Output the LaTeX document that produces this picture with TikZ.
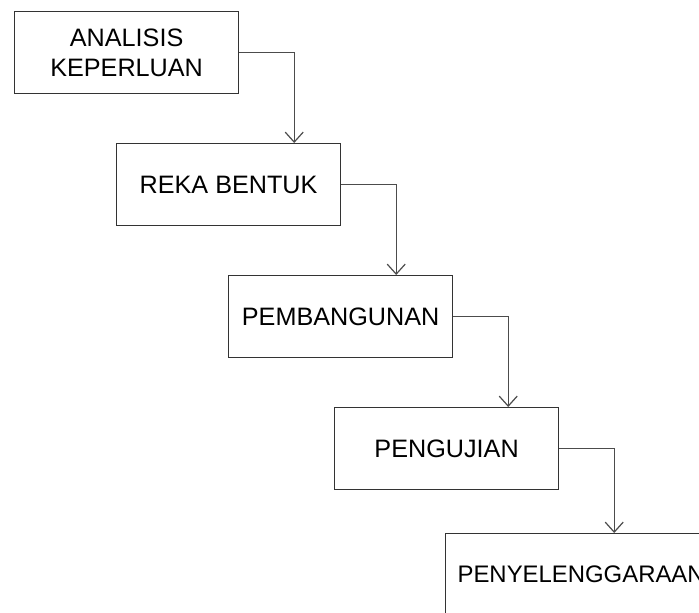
\documentclass[tikz,border=0pt]{standalone}
\usepackage{fontspec}
\setmainfont{Liberation Sans}
\usetikzlibrary{arrows.meta}

\begin{document}
\begin{tikzpicture}[x=0.5pt,y=-0.5pt,
  box/.style={draw=black!80,line width=0.6pt,anchor=north west,minimum width=112pt,minimum height=41pt,inner xsep=6.5pt,align=center,font=\fontsize{12.6}{15}\selectfont},
  flow/.style={draw=black!70,line width=0.6pt,-{Straight Barb[length=5pt,width=9pt]}}]
\useasboundingbox (0,0) rectangle (699,612);
\clip (0,0) rectangle (699,612);
\node[box] (analisis) at (14,11) {ANALISIS\\KEPERLUAN};
\node[box] (reka) at (116,143) {REKA BENTUK};
\node[box] (bina) at (228,275) {PEMBANGUNAN};
\node[box] (uji) at (334,407) {PENGUJIAN};
\node[box,inner xsep=6pt,font=\fontsize{11.95}{14.3}\selectfont] (selenggara) at (445,533) {PENYELENGGARAAN};
\foreach \a/\b in {analisis/reka,reka/bina,bina/uji,uji/selenggara}{
  \path (\a.east) ++(55,0) coordinate (drop);
  \draw[flow] (\a.east) -| (drop |- \b.north);
}
\end{tikzpicture}
\end{document}
